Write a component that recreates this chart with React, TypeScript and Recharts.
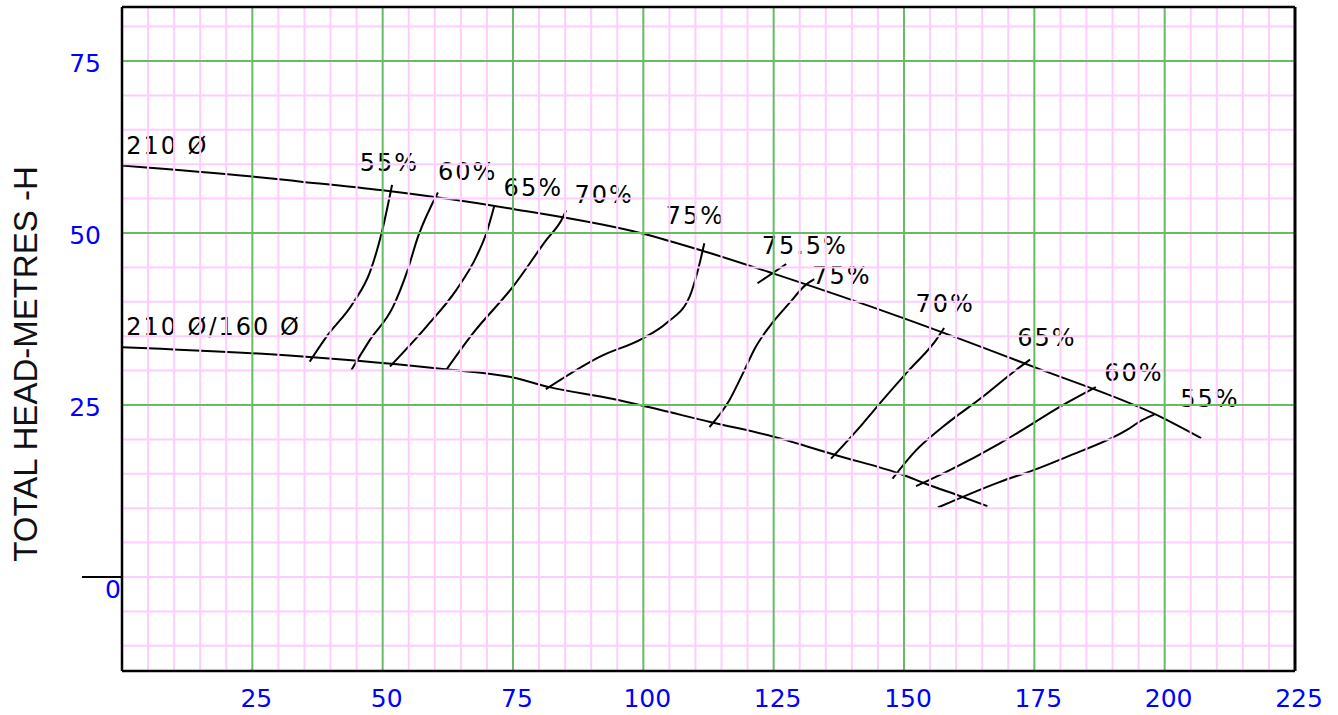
import React from 'react';
import { ComposedChart, Line, XAxis, YAxis, ReferenceLine, Scatter } from 'recharts';

// Axis / tick data
const X_MIN = 0;
const X_MAX = 225;
const Y_MIN = -13.66;
const Y_MAX = 82.85;
const xTicks = [25, 50, 75, 100, 125, 150, 175, 200, 225];
const yTicks = [0, 25, 50, 75];
const majorGridX = [25, 50, 75, 100, 125, 150, 175, 200];
const majorGridY = [25, 50, 75];
const minorGridX = [5, 10, 15, 20, 30, 35, 40, 45, 55, 60, 65, 70, 80, 85, 90, 95, 105, 110, 115, 120, 130, 135, 140, 145, 155, 160, 165, 170, 180, 185, 190, 195, 205, 210, 215, 220];
const minorGridY = [-10, -5, 0, 5, 10, 15, 20, 30, 35, 40, 45, 55, 60, 65, 70, 80];

// Head curves (flow, head)
const head210 = [
  { x: 0, y: 59.8 }, { x: 25, y: 58.2 }, { x: 34, y: 57.5 }, { x: 50, y: 56.2 }, { x: 75, y: 53.5 },
  { x: 100, y: 49.9 }, { x: 111, y: 47.5 }, { x: 125, y: 44.1 }, { x: 150, y: 37.6 }, { x: 175, y: 30.5 },
  { x: 200, y: 23.0 }, { x: 207, y: 20.2 },
];
const head160 = [
  { x: 0, y: 33.4 }, { x: 34, y: 32.1 }, { x: 62, y: 30.2 }, { x: 75, y: 29.0 }, { x: 82, y: 27.6 },
  { x: 94, y: 25.9 }, { x: 101, y: 24.7 }, { x: 113, y: 22.5 }, { x: 125, y: 20.4 }, { x: 137, y: 17.7 },
  { x: 150, y: 14.8 }, { x: 154, y: 13.6 }, { x: 161, y: 11.7 }, { x: 166, y: 10.3 },
];

// Iso-efficiency curves
const eff55L = [{ x: 36.0, y: 31.3 }, { x: 39.2, y: 34.9 }, { x: 44.3, y: 39.8 }, { x: 47.5, y: 44.2 }, { x: 49.8, y: 50.0 }, { x: 51.8, y: 57.0 }];
const eff60L = [{ x: 44.0, y: 30.1 }, { x: 47.5, y: 34.4 }, { x: 52.0, y: 39.3 }, { x: 54.6, y: 44.2 }, { x: 56.8, y: 49.5 }, { x: 60.6, y: 55.9 }];
const eff65L = [{ x: 51.4, y: 30.6 }, { x: 58.4, y: 36.4 }, { x: 64.1, y: 41.7 }, { x: 68.0, y: 46.6 }, { x: 69.9, y: 50.0 }, { x: 71.4, y: 53.9 }];
const eff70L = [{ x: 62.2, y: 30.1 }, { x: 67.3, y: 35.4 }, { x: 75.0, y: 42.2 }, { x: 81.4, y: 49.0 }, { x: 84.3, y: 51.9 }, { x: 85.2, y: 53.3 }];
const eff75L = [{ x: 81.3, y: 27.3 }, { x: 91.6, y: 32.0 }, { x: 99.9, y: 34.7 }, { x: 104.4, y: 36.9 }, { x: 108.9, y: 40.8 }, { x: 110.5, y: 44.7 }, { x: 111.7, y: 48.5 }];
const eff755 = [{ x: 121.9, y: 42.7 }, { x: 127.4, y: 45.5 }];
const eff75R = [{ x: 112.7, y: 21.8 }, { x: 116.5, y: 25.7 }, { x: 119.1, y: 29.6 }, { x: 121.6, y: 33.5 }, { x: 124.2, y: 36.4 }, { x: 128.0, y: 39.8 }, { x: 131.2, y: 42.5 }, { x: 132.8, y: 43.3 }];
const eff70R = [{ x: 136.0, y: 17.2 }, { x: 142.1, y: 22.3 }, { x: 145.9, y: 25.7 }, { x: 151.0, y: 30.1 }, { x: 156.1, y: 34.4 }, { x: 157.7, y: 36.2 }];
const eff65R = [{ x: 147.8, y: 14.3 }, { x: 152.3, y: 18.4 }, { x: 157.4, y: 21.8 }, { x: 165.1, y: 26.2 }, { x: 171.5, y: 30.1 }, { x: 174.2, y: 31.6 }];
const eff60R = [{ x: 152.3, y: 13.2 }, { x: 158.7, y: 15.5 }, { x: 168.3, y: 19.4 }, { x: 172.1, y: 21.1 }, { x: 179.8, y: 24.7 }, { x: 186.8, y: 27.6 }];
const eff55R = [{ x: 156.5, y: 10.1 }, { x: 168.3, y: 13.8 }, { x: 174.7, y: 15.5 }, { x: 181.0, y: 17.4 }, { x: 192.6, y: 21.3 }, { x: 195.7, y: 22.8 }, { x: 198.0, y: 23.6 }];

const curves = [head210, head160, eff55L, eff60L, eff65L, eff70L, eff75L, eff755, eff75R, eff70R, eff65R, eff60R, eff55R];

// Text labels (left edge x, centre y)
const labelText = ['210 Ø', '210 Ø/160 Ø', '55%', '60%', '65%', '70%', '75%', '75.5%', '75%', '70%', '65%', '60%', '55%'];
const labelX = [0.8, 0.8, 45.6, 60.6, 73.2, 86.8, 104.3, 122.7, 132.4, 152.2, 171.7, 188.4, 203.0];
const labelY = [62.6, 36.3, 60.2, 58.9, 56.6, 55.5, 52.4, 48.1, 43.7, 39.7, 34.7, 29.7, 25.9];
const labels = labelText.map((t, i) => ({ x: labelX[i], y: labelY[i], text: t }));

const BLUE = '#0000ff';
const PINK = '#ffccff';
const GREEN = '#66bb66';
const FONT = '"DejaVu Sans", sans-serif';

const XTick = (props: any) => {
  const { x, y, payload } = props;
  return (
    <text x={x + 4} y={y + 27} textAnchor="middle" dominantBaseline="central" fill={BLUE} fontSize={25} fontFamily={FONT}>
      {payload.value}
    </text>
  );
};

const YTick = (props: any) => {
  const { x, y, payload } = props;
  if (payload.value === 0) {
    return (
      <g>
        <line x1={x - 40} y1={y} x2={x} y2={y} stroke="#000" strokeWidth={2} />
        <text x={x - 1} y={y + 12} textAnchor="end" dominantBaseline="central" fill={BLUE} fontSize={25} fontFamily={FONT}>
          0
        </text>
      </g>
    );
  }
  return (
    <text x={x - 21} y={y + 2} textAnchor="end" dominantBaseline="central" fill={BLUE} fontSize={25} fontFamily={FONT}>
      {payload.value}
    </text>
  );
};

const LabelShape = (props: any) => {
  const { cx, cy, payload } = props;
  return (
    <text x={cx} y={cy} textAnchor="start" dominantBaseline="central" fill="#000" fontSize={24} letterSpacing={2} fontFamily={FONT}>
      {payload.text}
    </text>
  );
};

const YLabel = (props: any) => {
  const vb = props.viewBox || { x: 0, y: 7 };
  const cx = vb.x + 25;
  const cy = 364;
  return (
    <text x={cx} y={cy} transform={`rotate(-90, ${cx}, ${cy})`} textAnchor="middle" dominantBaseline="central" fill="#111" fontSize={33} fontFamily='"Liberation Sans", Arial, sans-serif'>
      TOTAL HEAD-METRES -H
    </text>
  );
};

export default function App() {
  return (
    <div style={{ width: 1338, height: 715 }}>
      <style>{'body{margin:0}'}</style>
      <ComposedChart width={1338} height={715} margin={{ top: 7, right: 43, bottom: 0, left: 0 }}>
        <XAxis
          type="number"
          dataKey="x"
          domain={[X_MIN, X_MAX]}
          ticks={xTicks}
          allowDataOverflow
          height={44}
          tickLine={false}
          tickSize={0}
          tickMargin={0}
          axisLine={{ stroke: '#000', strokeWidth: 2.5 }}
          tick={<XTick />}
          interval={0}
        />
        <YAxis
          type="number"
          dataKey="y"
          domain={[Y_MIN, Y_MAX]}
          ticks={yTicks}
          allowDataOverflow
          width={122}
          tickLine={false}
          tickSize={0}
          tickMargin={0}
          axisLine={{ stroke: '#000', strokeWidth: 2.5 }}
          tick={<YTick />}
          interval={0}
          label={<YLabel />}
        />
        <Scatter data={labels} dataKey="y" shape={<LabelShape />} isAnimationActive={false} zIndex={300} />
        {curves.map((c, i) => (
          <Line
            key={'c' + i}
            data={c}
            dataKey="y"
            type="monotone"
            stroke="#000"
            strokeWidth={2}
            dot={false}
            activeDot={false}
            isAnimationActive={false}
            zIndex={400}
          />
        ))}
        {minorGridX.map((v) => (
          <ReferenceLine key={'mx' + v} x={v} stroke={PINK} strokeWidth={2} zIndex={450} />
        ))}
        {minorGridY.map((v) => (
          <ReferenceLine key={'my' + v} y={v} stroke={PINK} strokeWidth={2} zIndex={450} />
        ))}
        {majorGridX.map((v) => (
          <ReferenceLine key={'Mx' + v} x={v} stroke={GREEN} strokeWidth={2} zIndex={460} />
        ))}
        {majorGridY.map((v) => (
          <ReferenceLine key={'My' + v} y={v} stroke={GREEN} strokeWidth={2} zIndex={460} />
        ))}
        <ReferenceLine x={X_MAX} stroke="#000" strokeWidth={3} zIndex={700} />
        <ReferenceLine y={Y_MAX} stroke="#000" strokeWidth={2.5} zIndex={700} />
      </ComposedChart>
    </div>
  );
}
